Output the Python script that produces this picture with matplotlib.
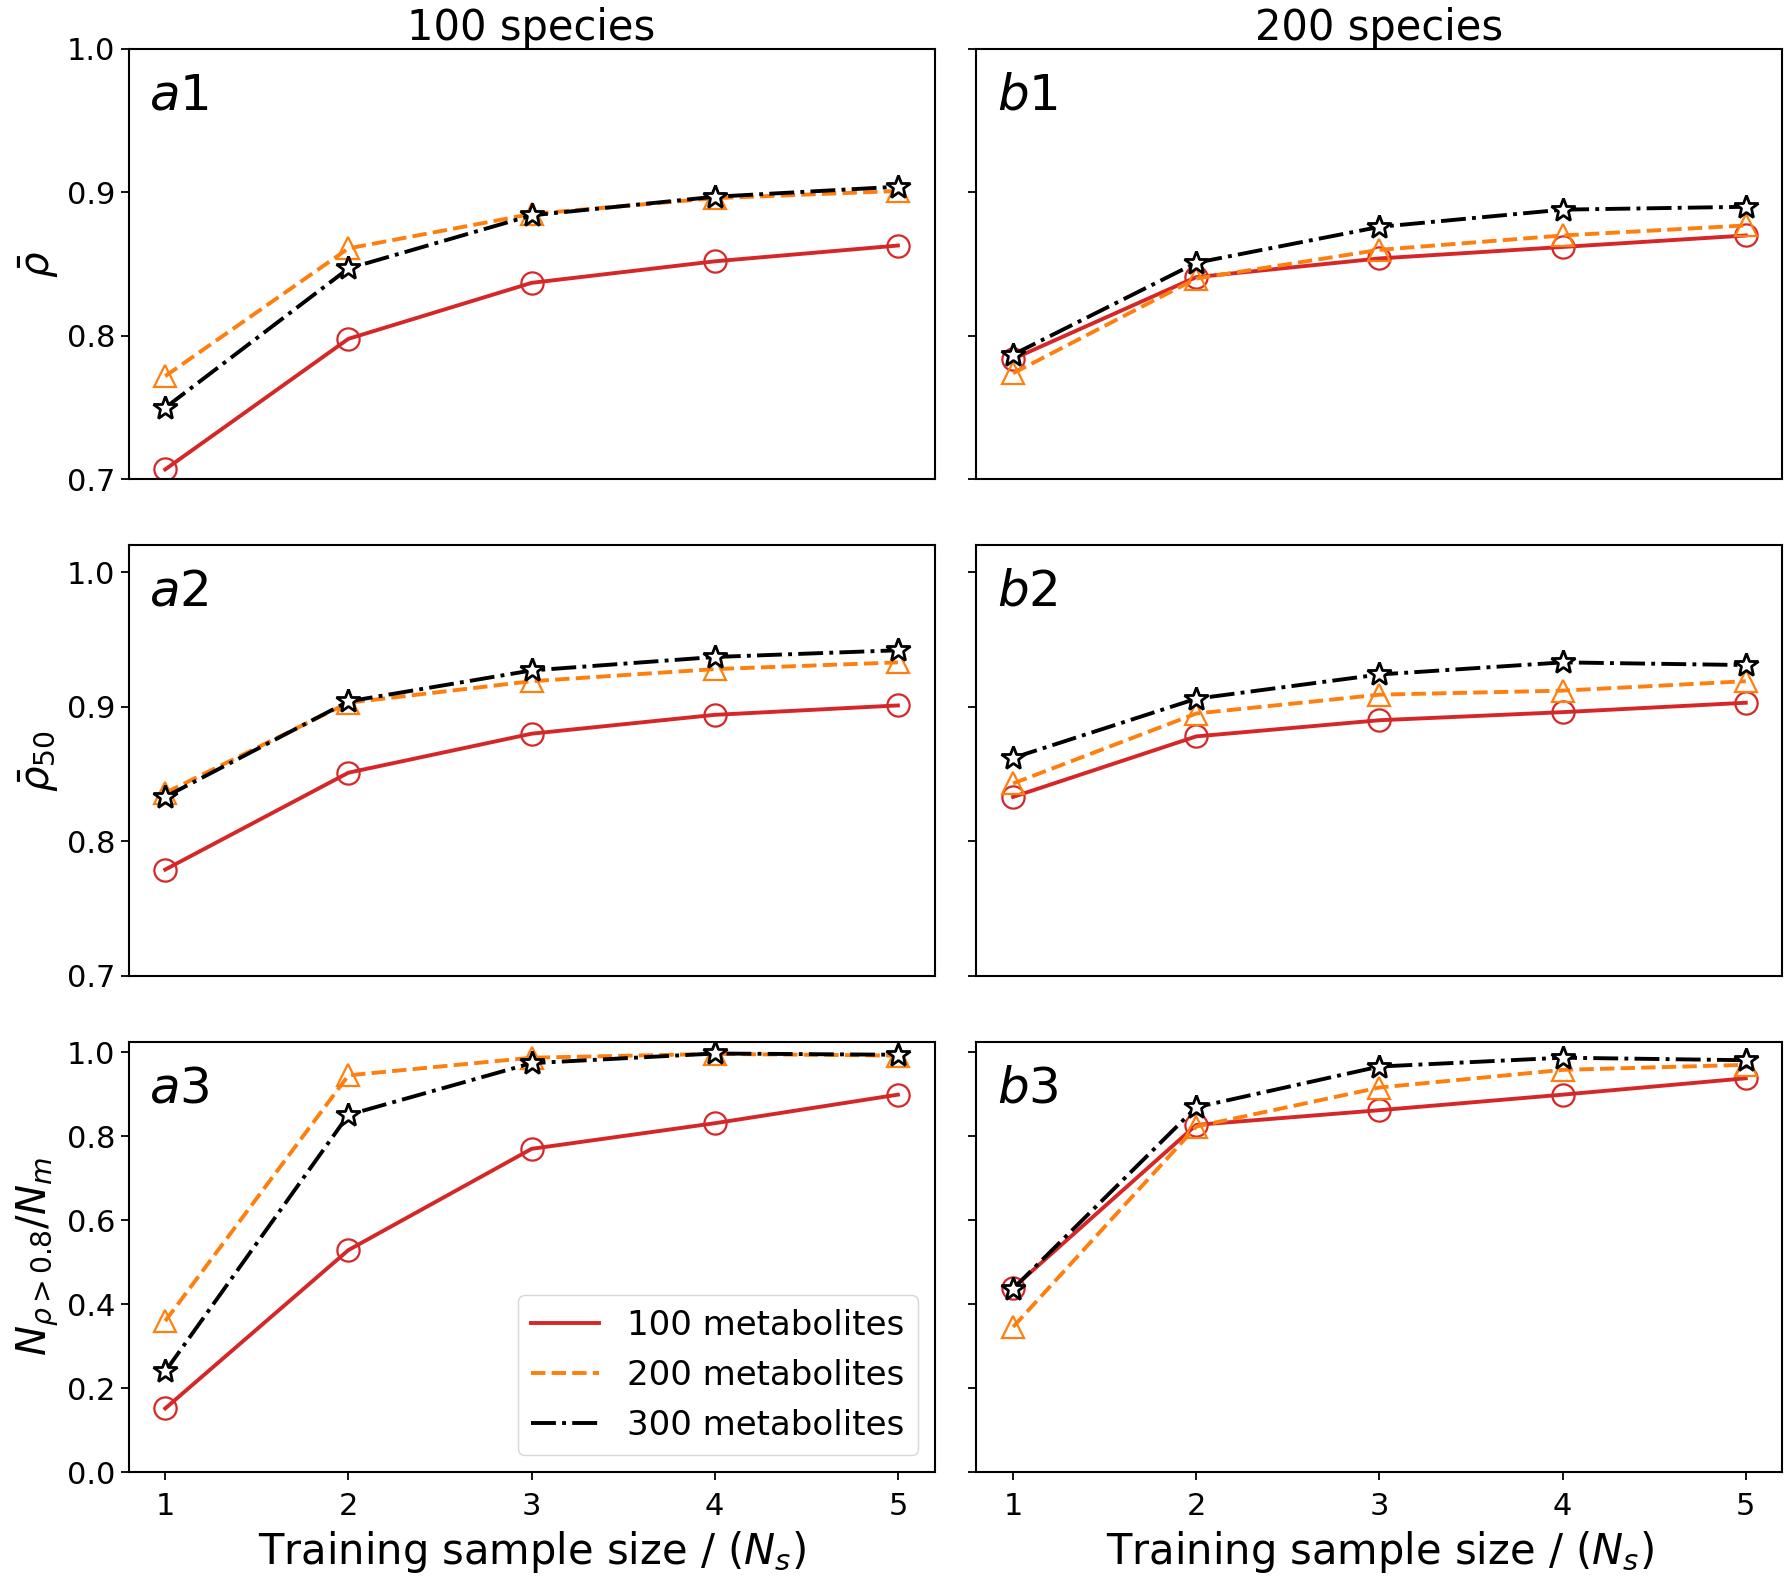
import numpy as np
import matplotlib
matplotlib.use('Agg')
import matplotlib.pyplot as plt

# Training sample sizes
ns = [1, 2, 3, 4, 5]
series_labels = ['100 metabolites', '200 metabolites', '300 metabolites']

# a1 / b1 : mean rho
a1_m100 = [0.707, 0.798, 0.837, 0.852, 0.863]
a1_m200 = [0.772, 0.861, 0.885, 0.896, 0.901]
a1_m300 = [0.750, 0.847, 0.884, 0.897, 0.904]
b1_m100 = [0.784, 0.841, 0.854, 0.862, 0.870]
b1_m200 = [0.774, 0.840, 0.860, 0.870, 0.877]
b1_m300 = [0.787, 0.851, 0.876, 0.888, 0.890]

# a2 / b2 : mean rho of top 50
a2_m100 = [0.779, 0.851, 0.880, 0.894, 0.901]
a2_m200 = [0.836, 0.903, 0.919, 0.928, 0.933]
a2_m300 = [0.833, 0.904, 0.927, 0.937, 0.942]
b2_m100 = [0.833, 0.878, 0.890, 0.896, 0.903]
b2_m200 = [0.843, 0.895, 0.909, 0.912, 0.919]
b2_m300 = [0.862, 0.906, 0.924, 0.933, 0.931]

# a3 / b3 : fraction with rho > 0.8
a3_m100 = [0.152, 0.529, 0.770, 0.831, 0.899]
a3_m200 = [0.360, 0.945, 0.987, 0.996, 0.992]
a3_m300 = [0.240, 0.851, 0.974, 0.997, 0.994]
b3_m100 = [0.439, 0.827, 0.862, 0.899, 0.938]
b3_m200 = [0.346, 0.823, 0.916, 0.958, 0.970]
b3_m300 = [0.437, 0.869, 0.966, 0.987, 0.981]

panels = [
    [('a1', a1_m100, a1_m200, a1_m300), ('b1', b1_m100, b1_m200, b1_m300)],
    [('a2', a2_m100, a2_m200, a2_m300), ('b2', b2_m100, b2_m200, b2_m300)],
    [('a3', a3_m100, a3_m200, a3_m300), ('b3', b3_m100, b3_m200, b3_m300)],
]
col_titles = ['100 species', '200 species']
row_ylabels = [r'$\bar{\rho}$', r'$\bar{\rho}_{50}$', r'$N_{\rho>0.8}/N_m$']
row_ylims = [(0.7, 1.0), (0.7, 1.02), (0.0, 1.025)]
row_yticks = [[0.7, 0.8, 0.9, 1.0], [0.7, 0.8, 0.9, 1.0], [0.0, 0.2, 0.4, 0.6, 0.8, 1.0]]

colors = ['#d62728', '#ff7f0e', 'black']
styles = ['-', '--', '-.']
markers = ['o', '^', '*']

fig, axes = plt.subplots(3, 2, figsize=(17.86, 15.78), dpi=100)
plt.subplots_adjust(left=0.072, right=0.998, top=0.969, bottom=0.067,
                     wspace=0.052, hspace=0.153)

for r in range(3):
    for c in range(2):
        ax = axes[r, c]
        name, m100, m200, m300 = panels[r][c]
        for k, vals in enumerate([m100, m200, m300]):
            ax.plot(ns, vals, linestyle=styles[k], color=colors[k], lw=2.8,
                    label=series_labels[k])
            ax.plot(ns, vals, linestyle='none', marker=markers[k], ms=16 if k < 2 else 18,
                    mfc='none' if k < 2 else 'white', mec=colors[k],
                    mew=1.6 if k < 2 else 2.0)
        ax.set_ylim(*row_ylims[r])
        ax.set_yticks(row_yticks[r])
        ax.set_xlim(0.8, 5.2)
        ax.tick_params(labelsize=22, width=1.3, length=6)
        ax.tick_params(axis='x', pad=8)
        for sp in ax.spines.values():
            sp.set_linewidth(1.5)
        ax.text(0.025, 0.86, '$' + name + '$', transform=ax.transAxes, fontsize=36)
        if c == 0:
            ax.set_ylabel(row_ylabels[r], fontsize=29)
        else:
            ax.set_yticklabels([])
        if r < 2:
            ax.set_xticks([])
        else:
            ax.set_xticks(ns)
            ax.set_xlabel(r'Training sample size / $(N_s)$', fontsize=30, labelpad=6)
        if r == 0:
            ax.set_title(col_titles[c], fontsize=30, pad=4)

axes[2, 0].legend(loc='lower right', fontsize=24.5)

plt.savefig('out.png', dpi=100)
